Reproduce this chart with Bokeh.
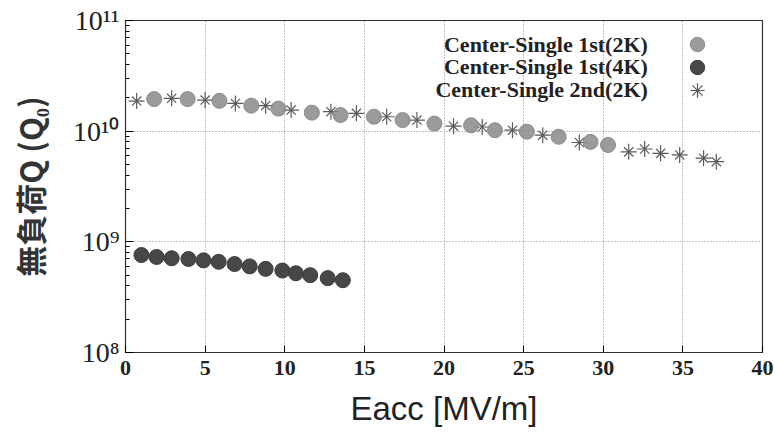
from bokeh.plotting import figure
from bokeh.models import Range1d, Legend, LegendItem, Label, FixedTicker
from bokeh.embed import file_html
from bokeh.resources import INLINE

# Center-Single 1st (2K)
e_1st_2k = [1.8, 3.9, 5.9, 7.9, 9.6, 11.7, 13.5, 15.6, 17.4, 19.4, 21.7, 23.2, 25.2, 27.2, 29.2, 30.3]
q_1st_2k = [1.95e10, 1.95e10, 1.88e10, 1.70e10, 1.60e10, 1.47e10, 1.40e10, 1.35e10, 1.26e10,
            1.17e10, 1.13e10, 1.02e10, 9.9e9, 8.9e9, 8.0e9, 7.5e9]
# Center-Single 1st (4K)
e_1st_4k = [1.0, 1.95, 2.9, 3.95, 4.9, 5.85, 6.85, 7.8, 8.8, 9.85, 10.7, 11.6, 12.7, 13.65]
q_1st_4k = [7.6e8, 7.3e8, 7.1e8, 7.0e8, 6.8e8, 6.6e8, 6.3e8, 6.0e8, 5.7e8, 5.5e8, 5.2e8, 5.0e8, 4.7e8, 4.5e8]
# Center-Single 2nd (2K)
e_2nd_2k = [0.7, 2.9, 5.0, 6.9, 8.8, 10.4, 12.9, 14.5, 16.4, 18.3, 20.6, 22.4, 24.3, 26.2, 28.5,
            31.6, 32.6, 33.6, 34.8, 36.3, 37.1]
q_2nd_2k = [1.87e10, 1.98e10, 1.91e10, 1.78e10, 1.70e10, 1.55e10, 1.50e10, 1.45e10, 1.35e10, 1.26e10,
            1.11e10, 1.09e10, 1.02e10, 9.2e9, 7.9e9, 6.5e9, 6.9e9, 6.3e9, 6.1e9, 5.7e9, 5.3e9]

series_names = ["Center-Single 1st(2K)", "Center-Single 1st(4K)", "Center-Single 2nd(2K)"]
x_ticks = [0, 5, 10, 15, 20, 25, 30, 35, 40]
y_ticks = [10**8, 10**9, 10**10, 10**11]
y_tick_labels = ["10\u2078", "10\u2079", "10\u00b9\u2070", "10\u00b9\u00b9"]

p = figure(width=774, height=434, x_range=Range1d(0, 40), y_range=Range1d(1e8, 1e11),
           y_axis_type="log", output_backend="svg", toolbar_location=None,
           min_border_left=125, min_border_right=12, min_border_top=20, min_border_bottom=82,
           background_fill_color="white", border_fill_color="white")
p.outline_line_color = "#333333"
p.outline_line_width = 1.2

# grids
p.xgrid.ticker = FixedTicker(ticks=x_ticks[1:-1])
p.ygrid.ticker = FixedTicker(ticks=y_ticks[1:-1])
for g in (p.xgrid, p.ygrid):
    g.grid_line_color = "#888888"
    g.grid_line_dash = "1 2"
    g.grid_line_width = 1

# x axis
xa = p.xaxis[0]
xa.ticker = FixedTicker(ticks=x_ticks)
xa.major_label_text_font = "Liberation Serif"
xa.major_label_text_font_style = "bold"
xa.major_label_text_font_size = "22px"
xa.major_label_text_color = "#222222"
xa.major_label_standoff = 8
xa.major_tick_in = 7
xa.major_tick_out = 0
xa.minor_tick_line_color = None
xa.axis_line_color = None
xa.axis_label = "Eacc [MV/m]"
xa.axis_label_text_font = "Liberation Sans"
xa.axis_label_text_font_style = "normal"
xa.axis_label_text_font_size = "33px"
xa.axis_label_text_color = "#222222"
xa.axis_label_standoff = 12

# y axis
ya = p.yaxis[0]
ya.ticker.num_minor_ticks = 10
ya.major_label_overrides = {t: s for t, s in zip(y_ticks, y_tick_labels)}
ya.major_label_text_font = "Liberation Serif"
ya.major_label_text_font_size = "28px"
ya.major_label_text_color = "#222222"
ya.major_label_standoff = 6
ya.major_tick_in = 8
ya.major_tick_out = 0
ya.minor_tick_in = 4
ya.minor_tick_out = 0
ya.axis_line_color = None
ya.axis_label = "無負荷Q (Q\u2080)"
ya.axis_label_text_font = "Noto Sans CJK JP"
ya.axis_label_text_font_style = "bold"
ya.axis_label_text_font_size = "31px"
ya.axis_label_text_color = "#333333"
ya.axis_label_standoff = 18

# data
r_4k = p.scatter(e_1st_4k, q_1st_4k, marker="circle", size=15, fill_color="#3d3d3d",
                 line_color="#3d3d3d", fill_alpha=0.95)
r_2nd_a = p.scatter(e_2nd_2k, q_2nd_2k, marker="cross", size=16, line_color="#5a5a5a", line_width=1.2)
r_2nd_b = p.scatter(e_2nd_2k, q_2nd_2k, marker="x", size=13, line_color="#5a5a5a", line_width=1.2)
r_2k = p.scatter(e_1st_2k, q_1st_2k, marker="circle", size=15, fill_color="#8a8a8a",
                 line_color="#8a8a8a", fill_alpha=0.85)

# legend: one glyph-only legend per row (glyphs at the right), right-aligned texts to the left
item_renderers = [[r_2k], [r_4k], [r_2nd_a, r_2nd_b]]
legend_locs = [(554, 290), (554, 267), (554, 244)]
for rends, loc in zip(item_renderers, legend_locs):
    lg = Legend(items=[LegendItem(label=" ", renderers=rends)],
                location=loc, orientation="vertical", padding=0, margin=0, spacing=0,
                glyph_width=36, glyph_height=36, label_standoff=0, label_width=2, label_height=36,
                label_text_font_size="12px", border_line_alpha=0, background_fill_alpha=0)
    p.add_layout(lg, "center")

legend_y = [6.01e10, 3.84e10, 2.38e10]
for name, ly in zip(series_names, legend_y):
    p.add_layout(Label(x=32.8, y=ly, text=name, text_align="right", text_baseline="middle",
                       text_font="Liberation Serif", text_font_style="bold", text_font_size="22px",
                       text_color="#222222"))

open("out.html", "w").write(file_html(p, INLINE))
